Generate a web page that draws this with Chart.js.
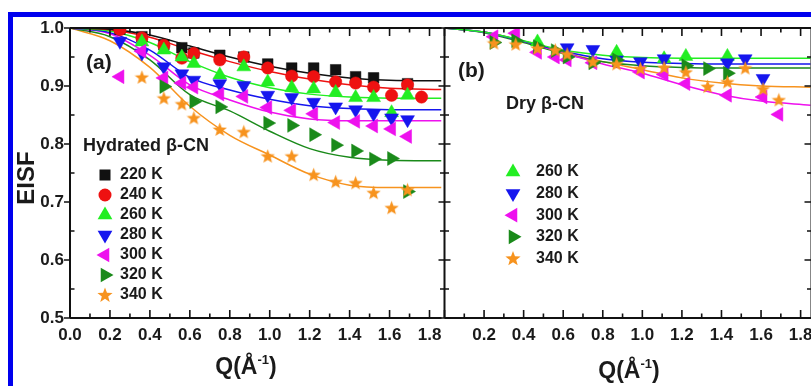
<!DOCTYPE html>
<html>
<head>
<meta charset="utf-8">
<script src="https://cdn.jsdelivr.net/npm/chart.js"></script>
<style>
  body { margin: 0; width: 811px; height: 386px; overflow: hidden; background: #fff; position: relative; }
  #frame { position: absolute; left: 8px; top: 12px; width: 900px; height: 500px;
           border-left: 5px solid #0000ee; border-top: 5px solid #0000ee; }
  canvas { position: absolute; top: 0; }
  #chartA { left: 0; }
  #chartB { left: 436px; }
</style>
</head>
<body>
<div id="frame"></div>
<canvas id="chartA" width="450" height="386"></canvas>
<canvas id="chartB" width="384" height="386"></canvas>
<script>
// Q grid of the measured points (1/Å)
const qPts = [0.25, 0.36, 0.47, 0.56, 0.62, 0.75, 0.87, 0.99, 1.11, 1.22, 1.33, 1.43, 1.52, 1.61, 1.69, 1.76];

// (a) hydrated beta-casein, measured EISF
const hyd220 = [0.998, 0.985, 0.971, 0.966, 0.957, 0.953, 0.950, 0.938, 0.931, 0.931, 0.928, 0.916, 0.914, null, 0.904, null];
const hyd240 = [0.997, 0.983, 0.970, 0.948, 0.956, 0.945, 0.950, 0.931, 0.917, 0.916, 0.907, 0.905, 0.898, 0.884, 0.902, 0.881];
const hyd260 = [null, 0.976, 0.962, 0.950, 0.939, 0.919, 0.933, 0.907, 0.897, 0.895, 0.889, 0.880, 0.880, 0.854, 0.884, null];
const hyd280 = [0.977, 0.957, 0.933, 0.921, 0.910, 0.904, 0.901, 0.884, 0.880, 0.872, 0.864, 0.859, 0.852, 0.845, 0.842, null];
const hyd300 = [0.916, 0.960, 0.914, 0.905, 0.898, 0.886, 0.882, 0.863, 0.858, 0.852, 0.837, 0.839, 0.831, 0.826, 0.813, null];
const hyd320 = [null, null, 0.899, null, 0.873, 0.864, null, 0.836, 0.832, 0.816, 0.798, 0.788, 0.774, 0.775, 0.718, null];
const hyd340 = [null, 0.915, 0.879, 0.869, 0.845, 0.825, 0.821, 0.779, 0.779, 0.747, 0.735, 0.733, 0.716, 0.690, 0.721, null];

// (a) fitted curves
const qFitA = [0, 0.2, 0.4, 0.6, 0.8, 1.0, 1.2, 1.4, 1.6, 1.86];
const fit220 = [1.0, 0.998, 0.988, 0.969, 0.950, 0.934, 0.922, 0.914, 0.910, 0.909];
const fit240 = [1.0, 0.997, 0.984, 0.962, 0.942, 0.925, 0.912, 0.902, 0.896, 0.894];
const fit260 = [1.0, 0.995, 0.975, 0.942, 0.915, 0.897, 0.886, 0.881, 0.879, 0.879];
const fit280 = [1.0, 0.992, 0.962, 0.915, 0.893, 0.877, 0.866, 0.861, 0.859, 0.859];
const fit300 = [1.0, 0.990, 0.953, 0.902, 0.876, 0.855, 0.843, 0.840, 0.840, 0.840];
const fit320 = [1.0, 0.985, 0.945, 0.885, 0.857, 0.822, 0.792, 0.777, 0.772, 0.771];
const fit340 = [1.0, 0.978, 0.932, 0.865, 0.815, 0.781, 0.748, 0.729, 0.725, 0.725];

// (b) dry beta-casein, measured EISF
const dry260 = [null, null, 0.976, null, null, null, 0.958, null, 0.947, 0.951, null, 0.951, null, null, null, null];
const dry280 = [null, null, null, null, 0.966, 0.963, 0.945, 0.942, 0.947, null, null, 0.940, 0.947, 0.913, null, null];
const dry300 = [0.985, 0.991, 0.958, 0.950, 0.945, 0.940, null, 0.924, 0.920, 0.904, null, 0.884, null, 0.881, 0.851, null];
const dry320 = [0.975, 0.978, 0.968, 0.961, 0.950, 0.940, 0.945, null, null, 0.935, 0.930, 0.922, null, null, null, null];
const dry340 = [0.974, 0.972, 0.965, 0.962, 0.955, 0.942, 0.938, 0.930, 0.932, 0.924, 0.899, 0.907, 0.931, 0.895, 0.876, null];

// (b) fitted curves
const qFitB = [0, 0.2, 0.4, 0.6, 0.8, 1.0, 1.2, 1.4, 1.6, 1.85];
const dryFit260 = [1.0, 0.993, 0.978, 0.962, 0.953, 0.949, 0.948, 0.948, 0.948, 0.948];
const dryFit280 = [1.0, 0.993, 0.977, 0.960, 0.947, 0.941, 0.939, 0.938, 0.938, 0.938];
const dryFit300 = [1.0, 0.993, 0.977, 0.957, 0.938, 0.922, 0.902, 0.885, 0.874, 0.867];
const dryFit320 = [1.0, 0.992, 0.975, 0.956, 0.942, 0.935, 0.932, 0.931, 0.931, 0.931];
const dryFit340 = [1.0, 0.993, 0.977, 0.958, 0.942, 0.928, 0.914, 0.905, 0.900, 0.898];

const yTicks = [0.5, 0.6, 0.7, 0.8, 0.9, 1.0];
const xTicks = [0.0, 0.2, 0.4, 0.6, 0.8, 1.0, 1.2, 1.4, 1.6, 1.8];

const FONT = "'Liberation Sans', Arial, sans-serif";
const TEXT = '#1a1a1a';

const colors = {
  '220 K': '#111111', '240 K': '#ee1111', '260 K': '#22ee22', '280 K': '#1616ee',
  '300 K': '#ee11ee', '320 K': '#1a8a1a', '340 K': '#f7931e'
};
const shapes = {
  '220 K': 'square', '240 K': 'circle', '260 K': 'up', '280 K': 'down',
  '300 K': 'left', '320 K': 'right', '340 K': 'star'
};

// filled 5 point star as a point image
function starImage(color, size) {
  const c = document.createElement('canvas');
  c.width = size; c.height = size;
  const g = c.getContext('2d');
  drawStar(g, size / 2, size / 2 + 0.5, size / 2, color);
  return c;
}
function drawStar(g, cx, cy, r, color) {
  g.beginPath();
  for (let i = 0; i < 10; i++) {
    const rr = i % 2 ? r * 0.42 : r;
    const a = -Math.PI / 2 + i * Math.PI / 5;
    g.lineTo(cx + rr * Math.cos(a), cy + rr * Math.sin(a));
  }
  g.closePath();
  g.fillStyle = color;
  g.fill();
}

function pointOpts(label) {
  const s = shapes[label];
  if (s === 'square') return { pointStyle: 'rect', pointRadius: 7.5 };
  if (s === 'circle') return { pointStyle: 'circle', pointRadius: 6.2 };
  if (s === 'star') return { pointStyle: starImage(colors[label], 15), pointRadius: 7.5 };
  const rot = { up: 0, down: 180, right: 90, left: 270 }[s];
  return { pointStyle: 'triangle', pointRadius: 8, pointRotation: rot };
}

// legend marker, same shapes as the data points
function drawMarker(ctx, label, x, y) {
  const s = shapes[label], col = colors[label];
  ctx.fillStyle = col;
  ctx.beginPath();
  if (s === 'square') { ctx.rect(x - 5.5, y - 5.5, 11, 11); }
  else if (s === 'circle') { ctx.arc(x, y, 6.5, 0, Math.PI * 2); }
  else if (s === 'star') { drawStar(ctx, x, y + 0.5, 8, col); return; }
  else {
    let rad = { up: 0, down: 180, right: 90, left: 270 }[s] * Math.PI / 180;
    const r = 8.5;
    for (let k = 0; k < 3; k++) {
      ctx.lineTo(x + Math.sin(rad) * r, y - Math.cos(rad) * r);
      rad += 2 * Math.PI / 3;
    }
    ctx.closePath();
  }
  ctx.fill();
}

function toPoints(q, v) {
  return q.map((x, i) => ({ x: x, y: v[i] })).filter(p => p.y !== null && p.y !== undefined);
}

function buildDatasets(series) {
  const ds = [];
  series.forEach((s, i) => {
    ds.push({
      label: s.label,
      data: toPoints(qPts, s.values),
      showLine: false,
      backgroundColor: colors[s.label],
      borderColor: colors[s.label],
      pointBackgroundColor: colors[s.label],
      pointBorderColor: colors[s.label],
      pointBorderWidth: 0.5,
      order: 10 - i,
      ...pointOpts(s.label)
    });
    ds.push({
      label: s.label + ' fit',
      data: toPoints(s.qFit, s.fit),
      borderColor: colors[s.label],
      borderWidth: 1.5,
      pointRadius: 0,
      fill: false,
      cubicInterpolationMode: 'monotone',
      order: 20
    });
  });
  return ds;
}

// frame and tick marks drawn from the chart's own scales
function axesPlugin(side) {
  return {
    id: 'axes' + side,
    afterDraw(chart) {
      const { ctx, chartArea: a, scales: { x, y } } = chart;
      ctx.save();
      ctx.strokeStyle = '#111';
      ctx.lineWidth = 2;
      ctx.beginPath();
      ctx.moveTo(a.left, a.top); ctx.lineTo(a.right, a.top);
      ctx.moveTo(a.left, a.bottom); ctx.lineTo(a.right, a.bottom);
      ctx.moveTo(a.left, a.top); ctx.lineTo(a.left, a.bottom);
      // panel (a) shares its right edge with panel (b)'s left edge
      if (side === 'b') { ctx.moveTo(a.right, a.top); ctx.lineTo(a.right, a.bottom); }
      ctx.stroke();
      ctx.lineWidth = 1.6;
      ctx.beginPath();
      const nx = Math.floor(x.max / 0.1 + 1e-6);
      for (let i = 0; i <= nx; i++) {
        const px = x.getPixelForValue(i * 0.1);
        const len = i % 2 === 0 ? 8 : 4.5;
        ctx.moveTo(px, a.bottom); ctx.lineTo(px, a.bottom - len);
        ctx.moveTo(px, a.top); ctx.lineTo(px, a.top + len);
      }
      for (let i = 0; i <= 10; i++) {
        const py = y.getPixelForValue(0.5 + i * 0.05);
        const major = i % 2 === 0;
        if (side === 'a') {
          if (major) { ctx.moveTo(a.left - 6, py); ctx.lineTo(a.left, py); }
          else { ctx.moveTo(a.left, py); ctx.lineTo(a.left + 4.5, py); }
        } else {
          // shared axis with panel (a): ticks on both sides
          const c = major ? 6 : 4.5;
          ctx.moveTo(a.left - c, py); ctx.lineTo(a.left + c, py);
          const l = major ? 7 : 4.5;
          ctx.moveTo(a.right, py); ctx.lineTo(a.right - l, py);
        }
      }
      ctx.stroke();
      ctx.restore();
    }
  };
}

function drawQTitle(ctx, cx, cy) {
  ctx.save();
  ctx.fillStyle = TEXT;
  ctx.textBaseline = 'alphabetic';
  ctx.textAlign = 'left';
  const main = 'Q(Å', sup = '-1', end = ')';
  ctx.font = 'bold 23px ' + FONT; const w1 = ctx.measureText(main).width;
  ctx.font = 'bold 13px ' + FONT; const w2 = ctx.measureText(sup).width;
  ctx.font = 'bold 23px ' + FONT; const w3 = ctx.measureText(end).width;
  const x0 = cx - (w1 + w2 + w3) / 2;
  const base = cy + 8;
  ctx.fillText(main, x0, base);
  ctx.font = 'bold 13px ' + FONT;
  ctx.fillText(sup, x0 + w1, base - 10);
  ctx.font = 'bold 23px ' + FONT;
  ctx.fillText(end, x0 + w1 + w2, base);
  ctx.restore();
}

function textPlugin(side, cfg) {
  return {
    id: 'text' + side,
    afterDraw(chart) {
      const ctx = chart.ctx;
      ctx.save();
      ctx.fillStyle = TEXT;
      ctx.textBaseline = 'middle';
      ctx.textAlign = 'left';
      ctx.font = 'bold 21px ' + FONT;
      ctx.fillText(cfg.panel, cfg.panelX, cfg.panelY);
      ctx.font = 'bold 18px ' + FONT;
      ctx.fillText(cfg.title, cfg.titleX, cfg.titleY);
      ctx.font = 'bold 16px ' + FONT;
      cfg.labels.forEach((lab, i) => {
        const yy = cfg.itemY + i * cfg.itemStep;
        drawMarker(ctx, lab, cfg.markX, yy);
        ctx.fillStyle = TEXT;
        ctx.fillText(lab, cfg.textX, yy);
      });
      drawQTitle(ctx, cfg.qX, cfg.qY);
      if (cfg.eisf) {
        ctx.save();
        ctx.translate(27, 178);
        ctx.rotate(-Math.PI / 2);
        ctx.textAlign = 'center';
        ctx.font = 'bold 24px ' + FONT;
        ctx.fillStyle = TEXT;
        ctx.fillText('EISF', 0, 0);
        ctx.restore();
      }
      ctx.restore();
    }
  };
}

function xScale(max, hideZero) {
  return {
    type: 'linear', min: 0, max: max,
    afterBuildTicks: s => { s.ticks = xTicks.map(v => ({ value: v })); },
    ticks: {
      includeBounds: false, autoSkip: false, maxRotation: 0, padding: 7,
      color: TEXT, font: { family: FONT, weight: 'bold', size: 17 },
      callback: v => (hideZero && v === 0) ? '' : v.toFixed(1)
    },
    grid: { display: false, drawTicks: false },
    border: { display: false },
    afterFit: s => { s.height = 68; }
  };
}

function yScale(show) {
  return {
    type: 'linear', min: 0.5, max: 1.0, display: show,
    afterBuildTicks: s => { s.ticks = yTicks.map(v => ({ value: v })); },
    ticks: {
      padding: 6, color: TEXT, font: { family: FONT, weight: 'bold', size: 17 },
      callback: v => v.toFixed(1)
    },
    grid: { display: false, drawTicks: false },
    border: { display: false },
    afterFit: s => { s.width = show ? 70 : 0; }
  };
}

const seriesA = [
  { label: '220 K', values: hyd220, qFit: qFitA, fit: fit220 },
  { label: '240 K', values: hyd240, qFit: qFitA, fit: fit240 },
  { label: '260 K', values: hyd260, qFit: qFitA, fit: fit260 },
  { label: '280 K', values: hyd280, qFit: qFitA, fit: fit280 },
  { label: '300 K', values: hyd300, qFit: qFitA, fit: fit300 },
  { label: '320 K', values: hyd320, qFit: qFitA, fit: fit320 },
  { label: '340 K', values: hyd340, qFit: qFitA, fit: fit340 }
];
const seriesB = [
  { label: '260 K', values: dry260, qFit: qFitB, fit: dryFit260 },
  { label: '280 K', values: dry280, qFit: qFitB, fit: dryFit280 },
  { label: '300 K', values: dry300, qFit: qFitB, fit: dryFit300 },
  { label: '320 K', values: dry320, qFit: qFitB, fit: dryFit320 },
  { label: '340 K', values: dry340, qFit: qFitB, fit: dryFit340 }
];

const common = {
  responsive: false,
  animation: false,
  events: [],
  plugins: { legend: { display: false }, tooltip: { enabled: false } }
};

new Chart(document.getElementById('chartA'), {
  type: 'line',
  data: { datasets: buildDatasets(seriesA) },
  options: {
    ...common,
    layout: { padding: { left: 0, top: 28, right: 8, bottom: 0 } },
    scales: { x: xScale(1.86, false), y: yScale(true) }
  },
  plugins: [axesPlugin('a'), textPlugin('a', {
    panel: '(a)', panelX: 86, panelY: 63,
    title: 'Hydrated β-CN', titleX: 83, titleY: 146,
    labels: seriesA.map(s => s.label), markX: 105, textX: 120, itemY: 175, itemStep: 20,
    qX: 246, qY: 366, eisf: true
  })]
});

new Chart(document.getElementById('chartB'), {
  type: 'line',
  data: { datasets: buildDatasets(seriesB) },
  options: {
    ...common,
    layout: { padding: { left: 6, top: 28, right: 7, bottom: 0 } },
    scales: { x: xScale(1.855, true), y: yScale(false) }
  },
  plugins: [axesPlugin('b'), textPlugin('b', {
    panel: '(b)', panelX: 458 - 436, panelY: 71,
    title: 'Dry β-CN', titleX: 506 - 436, titleY: 104,
    labels: seriesB.map(s => s.label), markX: 513 - 436, textX: 536 - 436, itemY: 172, itemStep: 21.6,
    qX: 629 - 436, qY: 370, eisf: false
  })]
});
</script>
</body>
</html>
